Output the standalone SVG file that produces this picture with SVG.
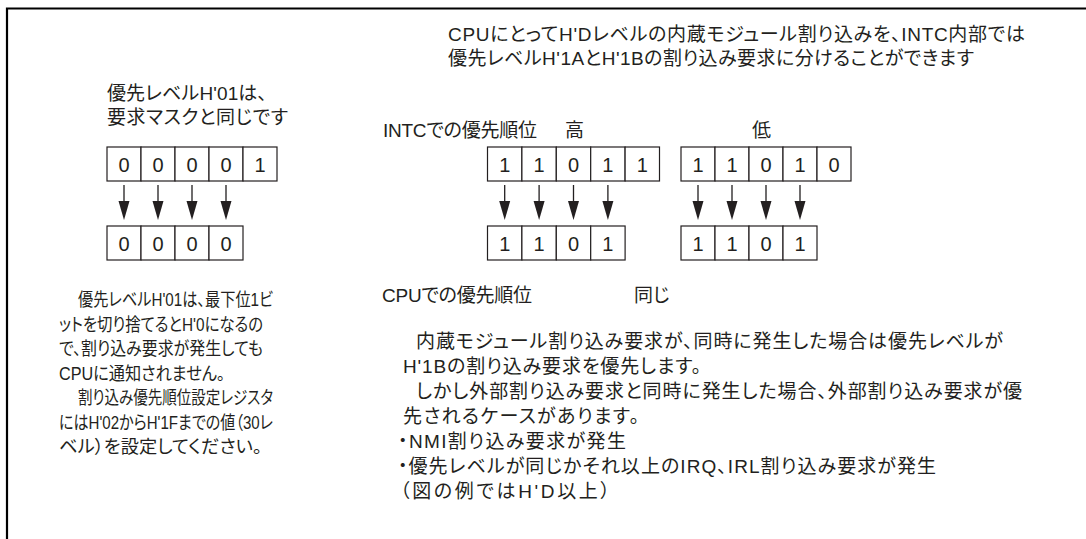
<svg xmlns="http://www.w3.org/2000/svg" width="1086" height="539" viewBox="0 0 1086 539">
<defs>
<style>
.t{font-family:"Liberation Sans","Noto Sans CJK JP",sans-serif;font-size:19px;fill:#231f20;font-feature-settings:"palt";}
.s{font-family:"Liberation Sans","Noto Sans CJK JP",sans-serif;font-size:18px;fill:#231f20;font-feature-settings:"palt";}
.d{font-family:"Liberation Sans","Noto Sans CJK JP",sans-serif;font-size:20px;fill:#231f20;text-anchor:middle;}
.c{fill:#fff;stroke:#231f20;stroke-width:1.2;}
.ln{stroke:#231f20;stroke-width:1.3;fill:none;}
.hd{fill:#231f20;stroke:none;}
.fr{stroke:#000;stroke-width:2.2;fill:none;}
</style>
<polygon id="ah" class="hd" points="-5.5,0 5.5,0 0,19"/>
</defs>
<rect width="1086" height="539" fill="#fff"/>
<g id="frame"><path class="fr" d="M7,539 V8.5 H1086"/></g>

<g id="header">
<text class="t" x="448" y="41" textLength="577" lengthAdjust="spacing">CPUにとってH'Dレベルの内蔵モジュール割り込みを、INTC内部では</text>
<text class="t" x="448" y="64.5" textLength="526" lengthAdjust="spacing">優先レベルH'1AとH'1Bの割り込み要求に分けることができます</text>
</g>

<g id="left-caption">
<text class="t" x="107" y="100" textLength="160" lengthAdjust="spacing">優先レベルH'01は、</text>
<text class="t" x="107" y="124" textLength="181" lengthAdjust="spacing">要求マスクと同じです</text>
</g>

<g id="left-top-reg">
<rect class="c" x="107" y="147" width="34" height="34"/><rect class="c" x="141" y="147" width="34" height="34"/><rect class="c" x="175" y="147" width="34" height="34"/><rect class="c" x="209" y="147" width="34" height="34"/><rect class="c" x="243" y="147" width="34" height="34"/>
<text class="d" x="124" y="171.5">0</text><text class="d" x="158" y="171.5">0</text><text class="d" x="192" y="171.5">0</text><text class="d" x="226" y="171.5">0</text><text class="d" x="260" y="171.5">1</text>
</g>
<g id="left-bottom-reg">
<rect class="c" x="107" y="226" width="34" height="34"/><rect class="c" x="141" y="226" width="34" height="34"/><rect class="c" x="175" y="226" width="34" height="34"/><rect class="c" x="209" y="226" width="34" height="34"/>
<text class="d" x="124" y="250.5">0</text><text class="d" x="158" y="250.5">0</text><text class="d" x="192" y="250.5">0</text><text class="d" x="226" y="250.5">0</text>
</g>

<g id="intc-label">
<text class="t" x="383" y="137" textLength="154" lengthAdjust="spacing">INTCでの優先順位</text>
<text class="t" x="565" y="137">高</text>
<text class="t" x="752" y="137">低</text>
</g>

<g id="intc-high-reg">
<rect class="c" x="487.5" y="147" width="34.4" height="34"/><rect class="c" x="521.9" y="147" width="34.4" height="34"/><rect class="c" x="556.3" y="147" width="34.4" height="34"/><rect class="c" x="590.7" y="147" width="34.4" height="34"/><rect class="c" x="625.1" y="147" width="34.4" height="34"/>
<text class="d" x="504.7" y="171.5">1</text><text class="d" x="539.1" y="171.5">1</text><text class="d" x="573.5" y="171.5">0</text><text class="d" x="607.9" y="171.5">1</text><text class="d" x="642.3" y="171.5">1</text>
</g>
<g id="cpu-high-reg">
<rect class="c" x="487.5" y="226" width="34.4" height="34"/><rect class="c" x="521.9" y="226" width="34.4" height="34"/><rect class="c" x="556.3" y="226" width="34.4" height="34"/><rect class="c" x="590.7" y="226" width="34.4" height="34"/>
<text class="d" x="504.7" y="250.5">1</text><text class="d" x="539.1" y="250.5">1</text><text class="d" x="573.5" y="250.5">0</text><text class="d" x="607.9" y="250.5">1</text>
</g>

<g id="intc-low-reg">
<rect class="c" x="681" y="147" width="34" height="34"/><rect class="c" x="715" y="147" width="34" height="34"/><rect class="c" x="749" y="147" width="34" height="34"/><rect class="c" x="783" y="147" width="34" height="34"/><rect class="c" x="817" y="147" width="34" height="34"/>
<text class="d" x="698" y="171.5">1</text><text class="d" x="732" y="171.5">1</text><text class="d" x="766" y="171.5">0</text><text class="d" x="800" y="171.5">1</text><text class="d" x="834" y="171.5">0</text>
</g>
<g id="cpu-low-reg">
<rect class="c" x="681" y="226" width="34" height="34"/><rect class="c" x="715" y="226" width="34" height="34"/><rect class="c" x="749" y="226" width="34" height="34"/><rect class="c" x="783" y="226" width="34" height="34"/>
<text class="d" x="698" y="250.5">1</text><text class="d" x="732" y="250.5">1</text><text class="d" x="766" y="250.5">0</text><text class="d" x="800" y="250.5">1</text>
</g>

<g id="connectors">
<path class="ln" d="M124,185V203M158,185V203M192,185V203M226,185V203M504.7,185V203M539.1,185V203M573.5,185V203M607.9,185V203M698,185V203M732,185V203M766,185V203M800,185V203"/>
<use href="#ah" x="124" y="201"/><use href="#ah" x="158" y="201"/><use href="#ah" x="192" y="201"/><use href="#ah" x="226" y="201"/>
<use href="#ah" x="504.7" y="201"/><use href="#ah" x="539.1" y="201"/><use href="#ah" x="573.5" y="201"/><use href="#ah" x="607.9" y="201"/>
<use href="#ah" x="698" y="201"/><use href="#ah" x="732" y="201"/><use href="#ah" x="766" y="201"/><use href="#ah" x="800" y="201"/>
</g>

<g id="cpu-label">
<text class="t" x="382" y="302" textLength="150" lengthAdjust="spacing">CPUでの優先順位</text>
<text class="t" x="634" y="302">同じ</text>
</g>

<g id="left-note">
<text class="s" x="78" y="306" textLength="195" lengthAdjust="spacingAndGlyphs">優先レベルH'01は、最下位1ビ</text>
<text class="s" x="59" y="330.5" textLength="204" lengthAdjust="spacingAndGlyphs">ットを切り捨てるとH'0になるの</text>
<text class="s" x="59" y="355" textLength="204" lengthAdjust="spacingAndGlyphs">で、割り込み要求が発生しても</text>
<text class="s" x="59" y="379.5" textLength="166" lengthAdjust="spacingAndGlyphs">CPUに通知されません。</text>
<text class="s" x="78" y="404" textLength="195" lengthAdjust="spacingAndGlyphs">割り込み優先順位設定レジスタ</text>
<text class="s" x="59" y="428.5" textLength="214" lengthAdjust="spacingAndGlyphs">にはH'02からH'1Fまでの値（30レ</text>
<text class="s" x="59" y="453" textLength="203" lengthAdjust="spacingAndGlyphs">ベル）を設定してください。</text>
</g>

<g id="right-note">
<text class="t" x="416" y="348" textLength="587" lengthAdjust="spacing">内蔵モジュール割り込み要求が、同時に発生した場合は優先レベルが</text>
<text class="t" x="403" y="373" textLength="298" lengthAdjust="spacing">H'1Bの割り込み要求を優先します。</text>
<text class="t" x="416" y="398" textLength="606" lengthAdjust="spacing">しかし外部割り込み要求と同時に発生した場合、外部割り込み要求が優</text>
<text class="t" x="403" y="423" textLength="236" lengthAdjust="spacing">先されるケースがあります。</text>
<text class="t" x="398" y="448" textLength="228" lengthAdjust="spacing">・NMI割り込み要求が発生</text>
<text class="t" x="398" y="473" textLength="538" lengthAdjust="spacing">・優先レベルが同じかそれ以上のIRQ、IRL割り込み要求が発生</text>
<text class="t" x="400" y="498" textLength="210" lengthAdjust="spacing">（図の例ではH'D以上）</text>
</g>
</svg>
